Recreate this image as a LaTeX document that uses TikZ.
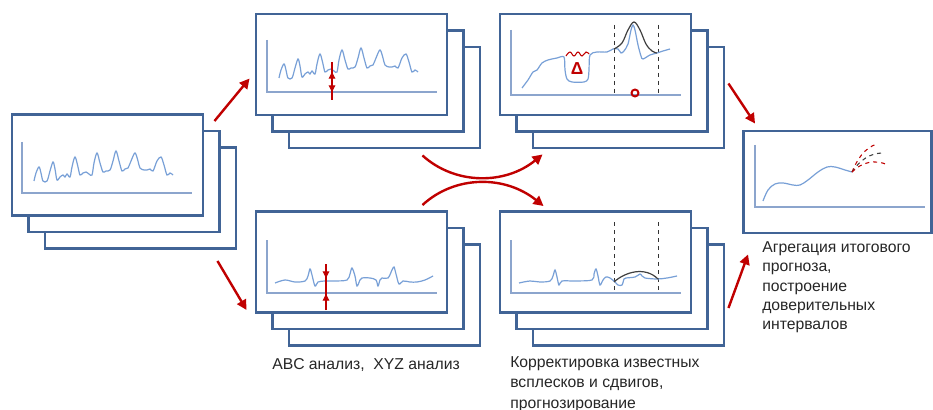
\documentclass[tikz,border=0pt]{standalone}
\usepackage{fontspec}
\setmainfont{Liberation Sans}
\usetikzlibrary{arrows.meta,calc}
\definecolor{frameblue}{RGB}{65,100,150}
\definecolor{axisblue}{RGB}{140,165,205}
\definecolor{lineblue}{RGB}{120,160,215}
\definecolor{arrowred}{RGB}{192,0,0}
\newcommand\spikysignal[2]{\draw[signal] plot[smooth,tension=0.55] coordinates {(#1,#2) ({#1+2},{#2-8}) ({#1+5},{#2-14}) ({#1+7},{#2-8}) ({#1+9},{#2}) ({#1+13},{#2}) ({#1+16},{#2-10}) ({#1+19},{#2-19}) ({#1+21},{#2-12}) ({#1+23},{#2-1}) ({#1+26},{#2-4}) ({#1+29},{#2-6}) ({#1+31},{#2-4}) ({#1+33},{#2-7}) ({#1+36},{#2-4}) ({#1+38},{#2-14}) ({#1+41},{#2-24}) ({#1+44},{#2-14}) ({#1+46},{#2-6}) ({#1+49},{#2-8}) ({#1+52},{#2-9}) ({#1+55},{#2-7}) ({#1+58},{#2-6}) ({#1+60},{#2-18}) ({#1+63},{#2-28}) ({#1+66},{#2-18}) ({#1+69},{#2-9}) ({#1+72},{#2-10}) ({#1+76},{#2-11}) ({#1+79},{#2-20}) ({#1+82},{#2-30}) ({#1+85},{#2-20}) ({#1+88},{#2-10}) ({#1+91},{#2-12}) ({#1+94},{#2-13}) ({#1+97},{#2-20}) ({#1+101},{#2-28}) ({#1+104},{#2-20}) ({#1+106},{#2-13}) ({#1+110},{#2-11}) ({#1+113},{#2-11}) ({#1+116},{#2-12}) ({#1+119},{#2-10}) ({#1+123},{#2-20}) ({#1+127},{#2-24}) ({#1+130},{#2-16}) ({#1+133},{#2-6}) ({#1+136},{#2-8}) ({#1+139},{#2-6})};}
\begin{document}
\begin{tikzpicture}[x=0.75pt,y=0.75pt,yscale=-1,xscale=1,
  frame/.style={draw=frameblue,line width=2.2pt,fill=white,inner sep=0pt,minimum width=143.25pt,minimum height=75.75pt},
  axis/.style={draw=axisblue,line width=1.1pt},
  signal/.style={draw=lineblue,line width=0.9pt},
  flow/.style={draw=arrowred,line width=1.8pt,-{Triangle[length=7.5pt,width=7.5pt]}},
  gap/.style={draw=arrowred,line width=0.8pt},
  gaptip/.style={gap,-{Triangle[length=5pt,width=5pt]}},
  cut/.style={draw=black!80,dashed,line width=0.7pt},
  fit/.style={draw=black!75,line width=0.9pt},
  caption/.style={anchor=north west,inner sep=0pt,align=left,text=black!85,font=\fontsize{11.8}{14.6}\selectfont}]
\useasboundingbox (0,0) rectangle (933,410);
%Shape: Rectangle
\node[frame] (src3) at (140.5,198) {};
\node[frame] (src2) at (124,181.5) {};
\node[frame] (src) at (107.5,165) {};
%Shape: Rectangle
\node[frame] (abc3) at (384.5,97.5) {};
\node[frame] (abc2) at (368,81) {};
\node[frame] (abc) at (351.5,64.5) {};
%Shape: Rectangle
\node[frame] (xyz3) at (384.5,295) {};
\node[frame] (xyz2) at (368,278.5) {};
\node[frame] (xyz) at (351.5,262) {};
%Shape: Rectangle
\node[frame] (corr3) at (628.5,97.5) {};
\node[frame] (corr2) at (612,81) {};
\node[frame] (corr) at (595.5,64.5) {};
%Shape: Rectangle
\node[frame] (fcst3) at (628.5,295) {};
\node[frame] (fcst2) at (612,278.5) {};
\node[frame] (fcst) at (595.5,262) {};
%Shape: Rectangle
\node[frame,minimum width=141pt,minimum height=76.5pt] (agg) at (837.5,182) {};
%Axes
\draw[axis] (22,142) -- (22,193) -- (192,193);
\draw[axis] (267,40) -- (267,92) -- (437,92);
\draw[axis] (267,240) -- (267,293) -- (437,293);
\draw[axis] (511,30) -- (511,95) -- (681,95);
\draw[axis] (511,240) -- (511,293) -- (681,293);
\draw[axis] (755,145) -- (755,207) -- (925,207);
%Curve Lines
\spikysignal{34}{181}
\spikysignal{279}{78}
\draw[gap] (332,62) -- (332,100);
\draw[gap,{Triangle[length=5pt,width=5pt]}-{Triangle[length=5pt,width=5pt]}] (332,72) -- (332,92);
%Curve Lines
\draw[signal] plot[smooth,tension=0.55] coordinates {(275,283) (285,280) (295,282) (305,281) (308,276) (310,269) (312,275) (315,286) (318,282) (325,281) (335,281) (347,280) (350,274) (352,268) (355,276) (357,286) (360,280) (362,278) (370,278) (376,280) (378,286) (380,280) (382,278) (388,278) (392,270) (394,267) (396,274) (399,284) (403,281) (410,282) (417,282) (425,280) (433,276)};
\draw[gap] (326,264) -- (326,310);
\draw[gaptip] (326,264) -- (326,278);
\draw[gaptip] (326,310) -- (326,294);
%Curve Lines
\draw[cut] (614,25) -- (614,95);
\draw[cut] (658,25) -- (658,95);
\draw[signal] plot[smooth,tension=0.5] coordinates {(522,88) (528,80) (533,72) (537,70) (542,63) (548,60) (557,58) (564,57) (565,70) (567,79) (572,82) (584,82) (588,79) (589,70) (590,55) (597,52) (607,52) (613,49) (618,49) (621,53) (624,51) (628,44) (631,30) (633,25) (635,30) (638,45) (641,56) (643,59) (650,55) (657,53) (663,51) (670,49)};
\draw[fit] plot[smooth,tension=0.6] coordinates {(614,49) (622,43) (628,30) (634,22) (640,30) (646,44) (652,51) (657,53)};
\draw[gap] plot[smooth,tension=0.7] coordinates {(566,56) (570,52) (574,56) (578,52) (582,56) (586,52) (589,54)};
\node[text=arrowred,font=\bfseries\fontsize{13}{13}\selectfont] (delta) at (577,69) {Δ};
\draw[arrowred,line width=1.5pt] (635,93) circle (2.6pt);
%Curve Lines
\draw[cut] (614,222) -- (614,293);
\draw[cut] (658,222) -- (658,293);
\draw[signal] plot[smooth,tension=0.55] coordinates {(519,283) (530,281) (540,282) (550,281) (553,276) (555,270) (557,277) (559,285) (562,281) (575,281) (592,280) (594,274) (596,269) (598,276) (600,285) (603,280) (606,277) (610,278) (615,282) (618,285) (622,285) (624,279) (626,278) (635,277) (640,274) (642,276) (645,278) (657,279) (667,278) (677,276)};
\draw[fit] (614,282) .. controls (625,272) and (645,266) .. (658,279);
%Curve Lines
\draw[signal] plot[smooth,tension=0.6] coordinates {(763,201) (768,190) (775,184) (783,183) (793,185) (800,185) (808,180) (818,172) (827,167) (835,167) (845,170) (852,172)};
\draw[arrowred,dashed,line width=0.8pt] (852,172) .. controls (857,160) and (864,148) .. (877,144);
\draw[black!75,dashed,line width=0.8pt] (852,172) .. controls (860,160) and (870,153) .. (883,153);
\draw[arrowred,dashed,line width=0.8pt] (852,172) .. controls (862,162) and (875,159) .. (888,165);
%Straight Lines
\draw[flow] ($(src.north east)+(10,8)$) -- ($(abc.west)+(-5,14)$);
\draw[flow] ($(src3.south east)+(-20,11)$) -- ($(xyz.south west)+(-8,-4)$);
\draw[flow] ($(abc3.south east)+(-59,6)$) .. controls (455,185) and (505,185) .. ($(corr3.south west)+(11,5)$);
\draw[flow] ($(xyz.north east)+(-26,-5)$) .. controls (455,175) and (505,175) .. ($(fcst.north west)+(45,-4)$);
\draw[flow] ($(corr3.east)+(3,-14)$) -- ($(agg.north west)+(13,-6)$);
\draw[flow] ($(fcst3.east)+(3,13)$) -- ($(agg.south west)+(6,20)$);
%Text
\node[caption] (abcnote) at (272,358) {ABC анализ,\ \ XYZ анализ};
\node[caption] (fcstnote) at (510,356) {Корректировка известных\\[1pt]всплесков и сдвигов,\\[1pt]прогнозирование};
\node[caption] (aggnote) at (762,241) {Агрегация итогового\\прогноза,\\построение\\доверительных\\интервалов};
\end{tikzpicture}
\end{document}
